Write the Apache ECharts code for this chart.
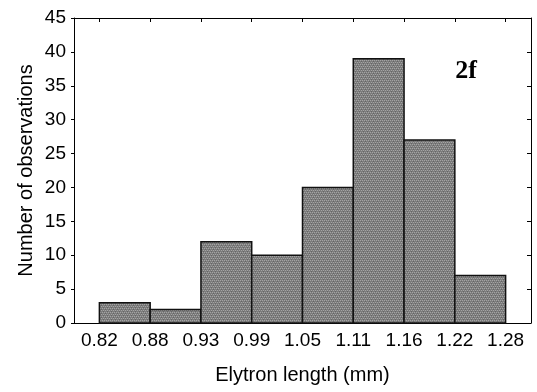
<!DOCTYPE html>
<html><head><meta charset="utf-8">
<script src="https://cdn.jsdelivr.net/npm/echarts@6/dist/echarts.min.js"></script>
<style>html,body{margin:0;padding:0;background:#fff}#c{width:537px;height:392px}</style>
</head><body><div id="c"></div>
<script>
const binEdges = ['0.82','0.88','0.93','0.99','1.05','1.11','1.16','1.22','1.28'];
const counts = [3, 2, 12, 10, 20, 39, 27, 7];
const yTicks = [0, 5, 10, 15, 20, 25, 30, 35, 40, 45];
const xTitle = 'Elytron length (mm)';
const yTitle = 'Number of observations';
const panelLabel = '2f';

// dotted gray fill pattern
const pc = document.createElement('canvas');
pc.width = 4; pc.height = 4;
const g = pc.getContext('2d');
g.fillStyle = '#7c7c7c'; g.fillRect(0,0,4,4);
g.fillStyle = '#a4a4a4';
g.fillRect(0,0,1,1); g.fillRect(2,0,1,1); g.fillRect(1,2,1,1); g.fillRect(3,2,1,1);
g.fillStyle = '#666';
g.fillRect(1,1,1,1); g.fillRect(3,3,1,1);

const edgeIdx = binEdges.map((_, i) => i);
const barData = counts.map((v, i) => [i, i + 1, v]);

const chart = echarts.init(document.getElementById('c'), null, {renderer: 'canvas'});
const font = 'Liberation Sans, Arial, sans-serif';
chart.setOption({
  animation: false,
  grid: {left: 74, right: 6, top: 18, bottom: 69, outerBoundsMode: 'none', containLabel: false},
  xAxis: [{
    type: 'value', min: -0.5, max: 8.5, position: 'bottom',
    axisLine: {onZero: false, lineStyle: {color: '#000', width: 1}},
    splitLine: {show: false},
    axisTick: {show: false},
    axisLabel: {customValues: edgeIdx, formatter: v => binEdges[v], color: '#000', fontFamily: font, fontSize: 19, margin: 8},
    name: xTitle, nameLocation: 'middle', nameGap: 42, nameMoveOverlap: false,
    nameTextStyle: {fontFamily: font, fontSize: 20, color: '#000'}
  }, {
    type: 'value', min: -0.5, max: 8.5, position: 'top',
    axisLine: {show: true, onZero: false, lineStyle: {color: '#000', width: 1}},
    splitLine: {show: false},
    axisTick: {show: true, inside: true, length: 4, customValues: edgeIdx, lineStyle: {color: '#000'}},
    axisLabel: {show: false}
  }],
  yAxis: [{
    type: 'value', min: 0, max: 45, interval: 5, position: 'left',
    axisLine: {show: true, onZero: false, lineStyle: {color: '#000', width: 1}},
    splitLine: {show: false},
    axisTick: {show: true, length: 3, lineStyle: {color: '#000'}},
    axisLabel: {color: '#000', fontFamily: font, fontSize: 19, margin: 8, formatter: v => yTicks.includes(v) ? String(v) : ''},
    name: yTitle, nameLocation: 'middle', nameGap: 38, nameMoveOverlap: false,
    nameTextStyle: {fontFamily: font, fontSize: 20, color: '#000'}
  }, {
    type: 'value', min: 0, max: 45, interval: 5, position: 'right',
    axisLine: {show: true, onZero: false, lineStyle: {color: '#000', width: 1}},
    splitLine: {show: false},
    axisTick: {show: true, inside: true, length: 4, lineStyle: {color: '#000'}},
    axisLabel: {show: false}
  }],
  graphic: [{
    type: 'text', x: 466, y: 71,
    style: {text: panelLabel, font: 'bold 26px "Liberation Serif", "Times New Roman", serif', fill: '#000', align: 'center', verticalAlign: 'middle'}
  }],
  series: [{
    type: 'custom',
    xAxisIndex: 0, yAxisIndex: 0,
    data: barData,
    encode: {x: [0, 1], y: 2},
    renderItem: function (params, api) {
      const p0 = api.coord([api.value(0), 0]);
      const p1 = api.coord([api.value(1), api.value(2)]);
      return {
        type: 'rect',
        shape: {x: p0[0], y: p1[1], width: p1[0] - p0[0], height: p0[1] - p1[1]},
        style: {fill: {image: pc, repeat: 'repeat'}, stroke: '#111', lineWidth: 1.5}
      };
    }
  }]
});
</script></body></html>
